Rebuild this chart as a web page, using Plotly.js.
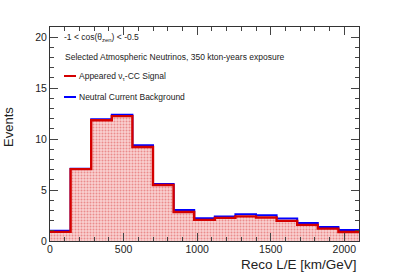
<!DOCTYPE html>
<html>
<head>
<meta charset="utf-8">
<script src="https://cdn.plot.ly/plotly-3.0.1.min.js"></script>
<style>html,body{margin:0;padding:0;background:#fff;}#chart{width:399px;height:275px;}</style>
</head>
<body>
<div id="chart"></div>
<script>
// Bin edges (km/GeV)
var binEdges = [0,140,280,420,560,700,840,980,1120,1260,1400,1540,1680,1820,1960,2100];
// Appeared nu_tau-CC signal (events per bin)
var signal = [0.9,7.05,11.85,12.25,9.23,5.49,2.85,2.07,2.27,2.42,2.3,1.97,1.58,1.21,0.89];
// Signal + neutral current background (events per bin)
var total = [1.0,7.1,11.95,12.4,9.39,5.6,3.05,2.24,2.4,2.63,2.53,2.2,1.77,1.38,1.08];
var xTickVals = [0,500,1000,1500,2000];
var yTickVals = [0,5,10,15,20];

function stepY(v){ return v.concat([v[v.length-1]]); }

var font = "Liberation Sans, Arial, sans-serif";

var traces = [
  {x: binEdges, y: stepY(total), mode:'lines', line:{shape:'hv', color:'#0000ff', width:2}, hoverinfo:'skip', showlegend:false},
  {x: binEdges, y: stepY(signal), mode:'lines', line:{shape:'hv', color:'#d40000', width:2.4},
   fill:'tozeroy', fillcolor:'rgba(248,190,190,1)',
   fillpattern:{shape:'.', bgcolor:'#fad2d2', fgcolor:'#ea8c8c', size:3, solidity:0.35},
   hoverinfo:'skip', showlegend:false}
];

var layout = {
  width:399, height:275,
  margin:{l:50, r:40, t:27, b:34},
  paper_bgcolor:'#fff', plot_bgcolor:'#fff',
  showlegend:false,
  font:{family:font, color:'#222'},
  xaxis:{range:[0,2100], tickvals:xTickVals, ticks:'inside', ticklen:8, tickwidth:1, tickcolor:'#444',
         mirror:'allticks', showline:true, linecolor:'#333', linewidth:1, showgrid:false, zeroline:false,
         tickfont:{size:10.5, family:font, color:'#222'}, ticklabelstandoff:-2,
         minor:{dtick:100, ticks:'inside', ticklen:4, tickcolor:'#444', showgrid:false}},
  yaxis:{range:[0,21], tickvals:yTickVals, ticks:'inside', ticklen:8, tickwidth:1, tickcolor:'#444',
         mirror:'allticks', showline:true, linecolor:'#333', linewidth:1, showgrid:false, zeroline:false,
         tickfont:{size:10.5, family:font, color:'#222'},
         minor:{dtick:1, ticks:'inside', ticklen:4, tickcolor:'#444', showgrid:false}},
  shapes:[
    {type:'line', xref:'paper', yref:'paper', x0:(64-50)/309, x1:(76-50)/309, y0:(241-76)/214, y1:(241-76)/214, line:{color:'#d40000', width:2}},
    {type:'line', xref:'paper', yref:'paper', x0:(64-50)/309, x1:(76-50)/309, y0:(241-97)/214, y1:(241-97)/214, line:{color:'#0000ff', width:2}}
  ],
  annotations:[
    {xref:'paper', yref:'paper', x:(62-50)/309, y:(241-38)/214, xanchor:'left', yanchor:'middle', showarrow:false,
     text:'-1 &lt; cos(θ<sub>zen</sub>) &lt; -0.5', font:{size:8.5, family:font, color:'#222'}},
    {xref:'paper', yref:'paper', x:(63-50)/309, y:(241-57)/214, xanchor:'left', yanchor:'middle', showarrow:false,
     text:'Selected Atmospheric Neutrinos, 350 kton-years exposure', font:{size:8.5, family:font, color:'#222'}},
    {xref:'paper', yref:'paper', x:(77-50)/309, y:(241-76)/214, xanchor:'left', yanchor:'middle', showarrow:false,
     text:'Appeared ν<sub>τ</sub>-CC Signal', font:{size:8.5, family:font, color:'#222'}},
    {xref:'paper', yref:'paper', x:(77-50)/309, y:(241-97)/214, xanchor:'left', yanchor:'middle', showarrow:false,
     text:'Neutral Current Background', font:{size:8.5, family:font, color:'#222'}},
    {xref:'paper', yref:'paper', x:1.0, y:(241-264)/214, xanchor:'right', yanchor:'middle', showarrow:false,
     text:'Reco L/E [km/GeV]', font:{size:13.5, family:font, color:'#222'}},
    {xref:'paper', yref:'paper', x:(8-50)/309, y:(241-127)/214, xanchor:'center', yanchor:'middle', showarrow:false, textangle:-90,
     text:'Events', font:{size:13, family:font, color:'#222'}}
  ]
};

Plotly.newPlot('chart', traces, layout, {staticPlot:true, displayModeBar:false});
</script>
</body>
</html>
